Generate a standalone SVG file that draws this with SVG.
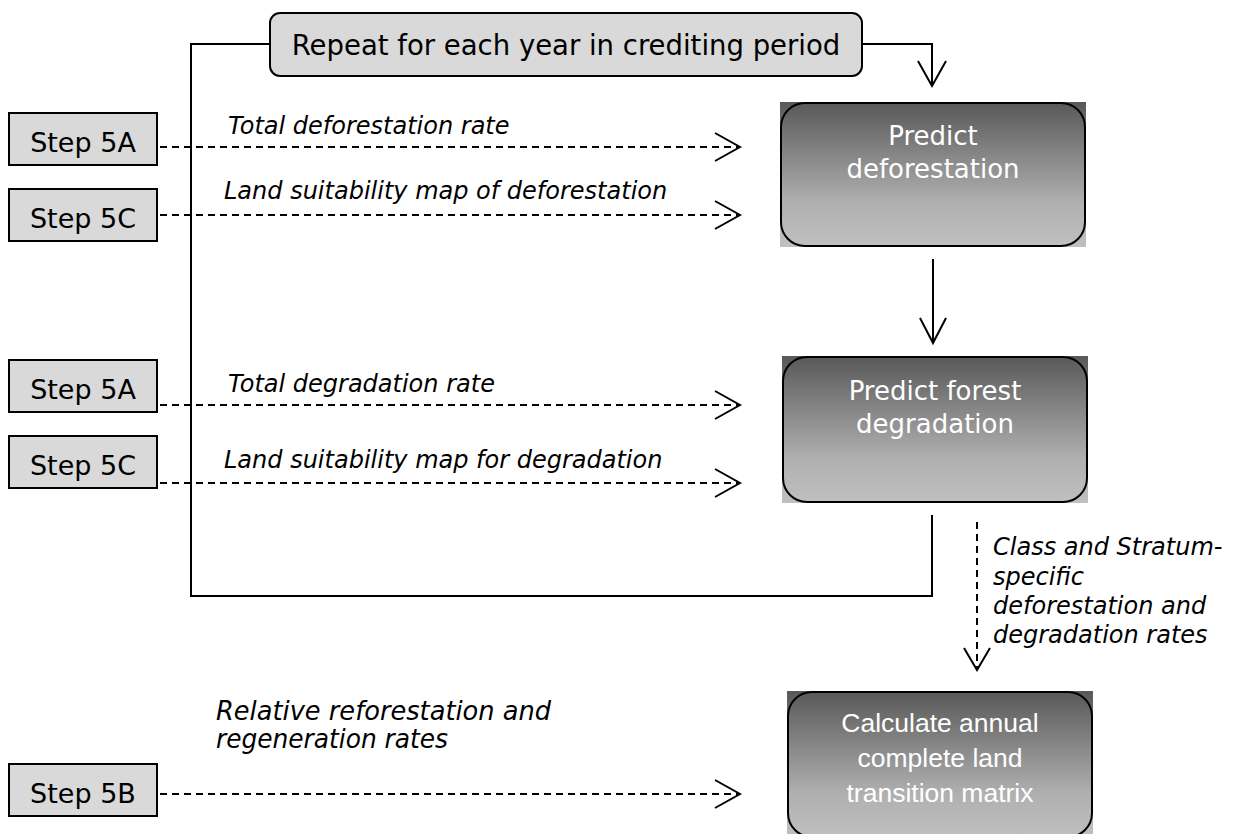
<svg xmlns="http://www.w3.org/2000/svg" width="1236" height="834" viewBox="0 0 1236 834">
<defs>
<linearGradient id="g" x1="0" y1="0" x2="0" y2="1">
<stop offset="0" stop-color="#585858"/>
<stop offset="0.7" stop-color="#b0b0b0"/>
<stop offset="1" stop-color="#c0c0c0"/>
</linearGradient>
<style>
.step{fill:#d9d9d9;stroke:#000;stroke-width:2}
.st{font-family:"DejaVu Sans",Verdana,sans-serif;font-size:27px;fill:#000;text-anchor:middle}
.lbl{font-family:"DejaVu Sans",Verdana,sans-serif;font-size:24px;font-style:italic;fill:#000}
.wt{font-family:"DejaVu Sans",Verdana,sans-serif;font-size:26px;fill:#fff;text-anchor:middle}
.wa{font-family:"Liberation Sans",Arial,sans-serif;font-size:26.5px;fill:#fff;text-anchor:middle}
.ln{fill:none;stroke:#000;stroke-width:2}
.ds{fill:none;stroke:#000;stroke-width:2;stroke-dasharray:7,5}
.bd{fill:none;stroke:#000;stroke-width:2}
</style>
</defs>
<g id="connectors">
<polyline class="ln" points="270,44 191,44 191,596 932,596 932,515"/>
<polyline class="ln" points="862,44 932,44 932,86"/>
<polyline class="ln" points="918,61 932,86 946,61"/>
<line class="ln" x1="933" y1="259" x2="933" y2="343"/>
<polyline class="ln" points="920,318 933,343 946,318"/>
<line class="ds" x1="977" y1="522" x2="977" y2="670"/>
<polyline class="ln" points="964,648 977,670 990,648"/>
<line class="ds" x1="160" y1="147" x2="738" y2="147"/>
<polyline class="ln" points="715,133 740,147 715,161"/>
<line class="ds" x1="160" y1="215" x2="738" y2="215"/>
<polyline class="ln" points="715,201 740,215 715,229"/>
<line class="ds" x1="160" y1="405" x2="738" y2="405"/>
<polyline class="ln" points="715,391 740,405 715,419"/>
<line class="ds" x1="160" y1="483" x2="738" y2="483"/>
<polyline class="ln" points="715,469 740,483 715,497"/>
<line class="ds" x1="160" y1="794" x2="738" y2="794"/>
<polyline class="ln" points="715,780 740,794 715,808"/>
<text class="lbl" x="228" y="134">Total deforestation rate</text>
<text class="lbl" x="224" y="199">Land suitability map of deforestation</text>
<text class="lbl" x="228" y="392">Total degradation rate</text>
<text class="lbl" x="224" y="468">Land suitability map for degradation</text>
<text class="lbl" x="216" y="720" textLength="335" lengthAdjust="spacingAndGlyphs" style="font-size:27px">Relative reforestation and</text>
<text class="lbl" x="216" y="748" textLength="232" lengthAdjust="spacingAndGlyphs" style="font-size:27px">regeneration rates</text>
<text class="lbl" x="993" y="555">Class and Stratum-</text>
<text class="lbl" x="993" y="585">specific</text>
<text class="lbl" x="993" y="614">deforestation and</text>
<text class="lbl" x="993" y="643">degradation rates</text>
</g>
<g id="repeat">
<rect x="270" y="13" width="592" height="63" rx="10" class="step"/>
<text class="st" x="566" y="55" style="font-size:27.5px">Repeat for each year in crediting period</text>
</g>
<g id="step5a1"><rect class="step" x="9" y="113" width="148" height="52"/><text class="st" x="83" y="152">Step 5A</text></g>
<g id="step5c1"><rect class="step" x="9" y="189" width="148" height="52"/><text class="st" x="83" y="228">Step 5C</text></g>
<g id="step5a2"><rect class="step" x="9" y="360" width="148" height="52"/><text class="st" x="83" y="399">Step 5A</text></g>
<g id="step5c2"><rect class="step" x="9" y="436" width="148" height="52"/><text class="st" x="83" y="475">Step 5C</text></g>
<g id="step5b"><rect class="step" x="9" y="764" width="148" height="52"/><text class="st" x="83" y="803">Step 5B</text></g>
<g id="predictDef">
<rect x="780" y="102" width="306" height="145" fill="url(#g)"/>
<rect class="bd" x="781" y="103" width="304" height="143" rx="24"/>
<text class="wt" x="933" y="145">Predict</text>
<text class="wt" x="933" y="178">deforestation</text>
</g>
<g id="predictDeg">
<rect x="782" y="356" width="306" height="147" fill="url(#g)"/>
<rect class="bd" x="783" y="357" width="304" height="145" rx="24"/>
<text class="wt" x="935" y="400">Predict forest</text>
<text class="wt" x="935" y="433">degradation</text>
</g>
<g id="calc">
<rect x="787" y="691" width="306" height="147" fill="url(#g)"/>
<rect class="bd" x="788" y="692" width="304" height="145" rx="24"/>
<text class="wa" x="940" y="732">Calculate annual</text>
<text class="wa" x="940" y="767">complete land</text>
<text class="wa" x="940" y="802">transition matrix</text>
</g>
</svg>
